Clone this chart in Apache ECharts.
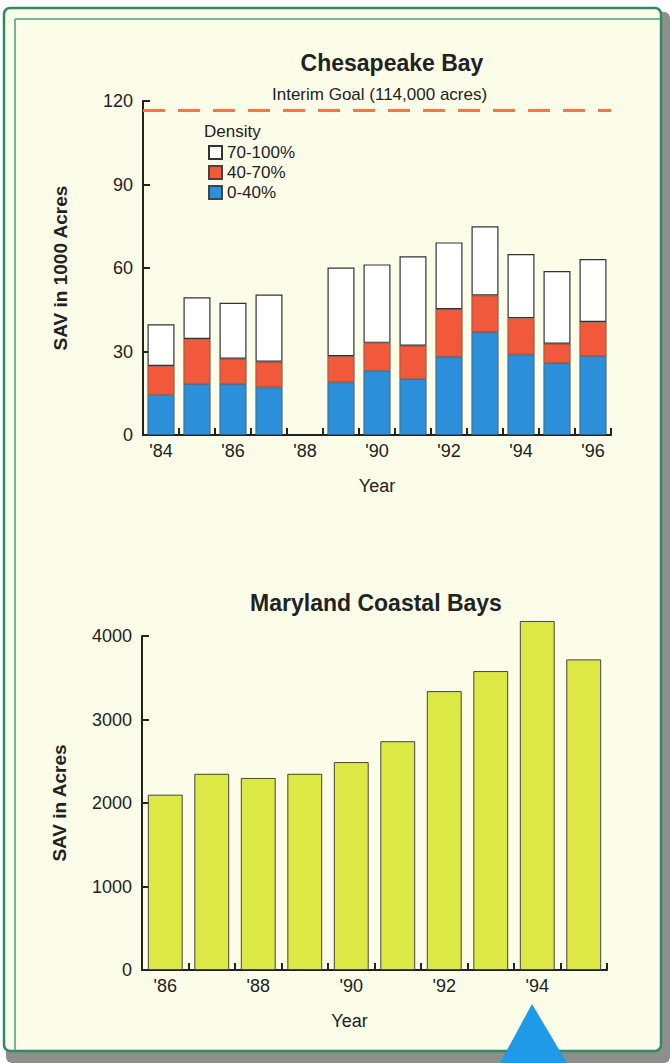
<!DOCTYPE html>
<html>
<head>
<meta charset="utf-8">
<script src="https://cdn.jsdelivr.net/npm/echarts@6/dist/echarts.min.js"></script>
<style>
html,body{margin:0;padding:0;background:#ffffff;}
#chart{width:670px;height:1063px;}
</style>
</head>
<body>
<div id="chart"></div>
<script>
// Chesapeake Bay (1000 acres)
const cbYears = ["'84","'85","'86","'87","'88","'89","'90","'91","'92","'93","'94","'95","'96"];
const cbLow  = [14.4, 18.3, 18.3, 17.1, null, 18.9, 23.1, 20.1, 28.1, 36.9, 28.9, 25.8, 28.3]; // 0-40%
const cbMid  = [10.4, 16.2, 9.1, 9.2, null, 9.4, 10.0, 12.0, 17.1, 13.2, 13.1, 7.0, 12.3];    // 40-70%
const cbHigh = [15.0, 15.0, 20.1, 24.2, null, 31.9, 28.2, 32.1, 24.0, 24.9, 23.0, 26.1, 22.6]; // 70-100%
const cbGoal = 116.5;
const cbTicks = [0, 30, 60, 90, 120];

// Maryland Coastal Bays (acres)
const mdYears = ["'86","'87","'88","'89","'90","'91","'92","'93","'94","'95"];
const mdValues = [2100, 2350, 2300, 2350, 2490, 2740, 3340, 3580, 4180, 3720];
const mdTicks = [0, 1000, 2000, 3000, 4000];

const FONT = 'Liberation Sans, Arial, sans-serif';
const TXT = '#222';

const chart = echarts.init(document.getElementById('chart'), null, {renderer: 'svg'});

const axisLine = {show: true, lineStyle: {color: '#222', width: 2}};
const axisTickIn = {show: true, inside: true, length: 7, lineStyle: {color: '#222', width: 2}};
const tickLabel = {fontSize: 18, color: TXT, fontFamily: FONT};
const plain = v => String(v);

chart.setOption({
  backgroundColor: 'transparent',
  animation: false,
  textStyle: {fontFamily: FONT},
  title: [
    {text: 'Chesapeake Bay', left: 387, top: 46, textAlign: 'center',
     textStyle: {fontSize: 23, fontWeight: 'bold', color: TXT, fontFamily: FONT}},
    {text: 'Maryland Coastal Bays', left: 371, top: 586, textAlign: 'center',
     textStyle: {fontSize: 23, fontWeight: 'bold', color: TXT, fontFamily: FONT}}
  ],
  legend: {
    data: ['70-100%', '40-70%', '0-40%'],
    orient: 'vertical', left: 203, top: 139,
    icon: 'rect', itemWidth: 13, itemHeight: 13, itemGap: 3,
    textStyle: {fontSize: 17, lineHeight: 17, color: TXT, fontFamily: FONT},
    selectedMode: false
  },
  grid: [
    {left: 143, top: 101, width: 468, height: 334},
    {left: 142, top: 636, width: 465, height: 334}
  ],
  xAxis: [
    {type: 'category', gridIndex: 0, data: cbYears, boundaryGap: true,
     axisLine: axisLine, axisTick: Object.assign({interval: 0}, axisTickIn),
     axisLabel: Object.assign({interval: 1, margin: 7}, tickLabel),
     name: 'Year', nameLocation: 'middle', nameGap: 42,
     nameTextStyle: {fontSize: 18, color: TXT, fontFamily: FONT}},
    {type: 'category', gridIndex: 1, data: mdYears, boundaryGap: true,
     axisLine: axisLine, axisTick: Object.assign({interval: 0}, axisTickIn),
     axisLabel: Object.assign({interval: 1, margin: 7}, tickLabel),
     name: 'Year', nameLocation: 'middle', nameGap: 42,
     nameTextStyle: {fontSize: 18, color: TXT, fontFamily: FONT, padding: [0, 50, 0, 0]}}
  ],
  yAxis: [
    {type: 'value', gridIndex: 0, min: cbTicks[0], max: cbTicks[cbTicks.length-1], interval: 30,
     axisLine: axisLine, axisTick: axisTickIn, splitLine: {show: false},
     axisLabel: Object.assign({margin: 10, formatter: plain}, tickLabel),
     name: 'SAV in 1000 Acres', nameLocation: 'middle', nameGap: 73,
     nameTextStyle: {fontSize: 19, fontWeight: 'bold', color: TXT, fontFamily: FONT}},
    {type: 'value', gridIndex: 1, min: mdTicks[0], max: mdTicks[mdTicks.length-1], interval: 1000,
     axisLine: axisLine, axisTick: axisTickIn, splitLine: {show: false},
     axisLabel: Object.assign({margin: 10, formatter: plain}, tickLabel),
     name: 'SAV in Acres', nameLocation: 'middle', nameGap: 73,
     nameTextStyle: {fontSize: 19, fontWeight: 'bold', color: TXT, fontFamily: FONT}}
  ],
  series: [
    {name: '0-40%', type: 'bar', stack: 'cb', xAxisIndex: 0, yAxisIndex: 0, data: cbLow,
     barCategoryGap: '25%', itemStyle: {color: '#2b8fd9', borderColor: '#444', borderWidth: 0.6}},
    {name: '40-70%', type: 'bar', stack: 'cb', xAxisIndex: 0, yAxisIndex: 0, data: cbMid,
     itemStyle: {color: '#f2593b', borderColor: '#444', borderWidth: 0.6}},
    {name: '70-100%', type: 'bar', stack: 'cb', xAxisIndex: 0, yAxisIndex: 0, data: cbHigh,
     itemStyle: {color: '#ffffff', borderColor: '#333', borderWidth: 1.2},
     markLine: {symbol: 'none', silent: true, label: {show: false},
       lineStyle: {color: '#ef7a42', type: [22, 13], width: 3},
       data: [{yAxis: cbGoal}]}},
    {name: 'Maryland', type: 'bar', xAxisIndex: 1, yAxisIndex: 1, data: mdValues, clip: false,
     barCategoryGap: '25%', itemStyle: {color: '#dce843', borderColor: '#444', borderWidth: 1}}
  ],
  graphic: [
    {type: 'rect', z: -10, shape: {x: 6, y: 12, width: 664, height: 1051, r: 6}, style: {fill: '#8d8f8a'}},
    {type: 'rect', z: -9, shape: {x: 4, y: 8, width: 657, height: 1043, r: 6},
     style: {fill: '#fcfde9', stroke: '#2f8a68', lineWidth: 2.5}},
    {type: 'line', z: -8, shape: {x1: 15, y1: 19, x2: 660, y2: 19}, style: {stroke: '#6db99a', lineWidth: 2}},
    {type: 'line', z: -8, shape: {x1: 15, y1: 19, x2: 15, y2: 1050}, style: {stroke: '#6db99a', lineWidth: 2}},
    {type: 'text', left: 272, top: 86, style: {text: 'Interim Goal (114,000 acres)', fontSize: 17, fill: TXT, fontFamily: FONT}},
    {type: 'text', left: 204, top: 123, style: {text: 'Density', fontSize: 17, fill: TXT, fontFamily: FONT}},
    {type: 'polygon', z: 100, shape: {points: [[532, 1004], [500, 1063], [567, 1063]]}, style: {fill: '#1e9ae8'}}
  ]
});
</script>
</body>
</html>
